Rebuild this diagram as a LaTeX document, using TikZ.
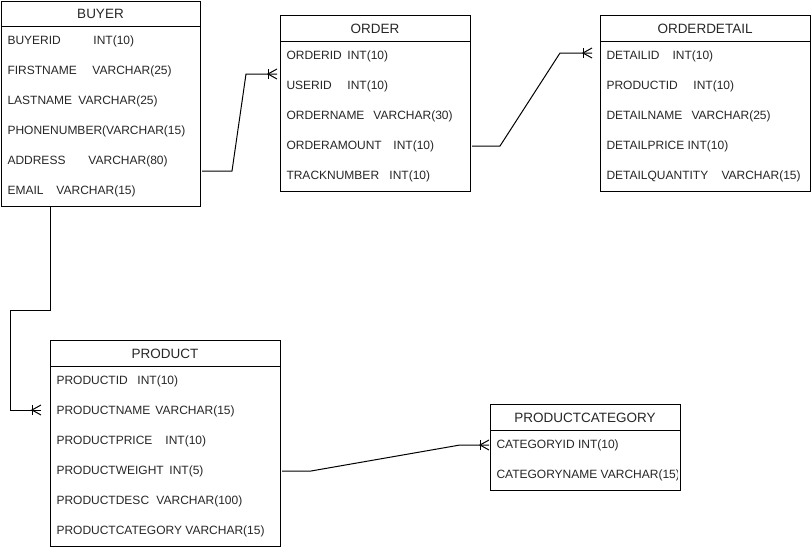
\documentclass[tikz,border=0pt]{standalone}
\usepackage{fontspec}
\setmainfont{Liberation Sans}
\usetikzlibrary{calc}
\def\crowfoot(#1){\draw ($(#1)+(-9,-5)$) -- ($(#1)+(-9,5)$); \draw ($(#1)+(0,-5)$) -- ($(#1)+(-9,0)$) -- ($(#1)+(0,5)$);}
\newcommand\colpair[3]{\makebox[#1pt][l]{#2}#3}

\begin{document}
\begin{tikzpicture}[x=1pt,y=-1pt,line width=1pt,
	tbl/.style={draw,rectangle,anchor=north west,outer sep=0pt,inner sep=0pt},
	ttl/.style={inner sep=0pt,font=\fontsize{13.5}{16}\selectfont,text=black!85},
	fld/.style={anchor=west,inner sep=0pt,font=\fontsize{12}{14}\selectfont,text=black!85}]
		%%%%% START %%%%%
		
		\useasboundingbox (0,0) rectangle (811,550);
		
		% BUYER
		\node[tbl,minimum width=199,minimum height=205] (buyer) at (1,1) {};
		\draw ($(buyer.north west)+(0,25)$) -- ($(buyer.north east)+(0,25)$);
		\node[ttl] (buyer-title) at ($(buyer.north)+(0,13)$) {BUYER};
		\foreach \f [count=\i] in {{\colpair{86}{BUYERID}{INT(10)}},{\colpair{85}{FIRSTNAME}{VARCHAR(25)}},{\colpair{71}{LASTNAME}{VARCHAR(25)}},{PHONENUMBER(VARCHAR(15)},{\colpair{81}{ADDRESS}{VARCHAR(80)}},{\colpair{49}{EMAIL}{VARCHAR(15)}}}
			\node[fld] (buyer-\i) at ($(buyer.north west)+(6,10+30*\i)$) {\f};
		
		% ORDER
		\node[tbl,minimum width=190,minimum height=176] (order) at (280,15) {};
		\draw ($(order.north west)+(0,26)$) -- ($(order.north east)+(0,26)$);
		\node[ttl] (order-title) at ($(order.north)+(0,13.5)$) {ORDER};
		\foreach \f [count=\i] in {{\colpair{61}{ORDERID}{INT(10)}},{\colpair{61}{USERID}{INT(10)}},{\colpair{87}{ORDERNAME}{VARCHAR(30)}},{\colpair{107}{ORDERAMOUNT}{INT(10)}},{\colpair{103}{TRACKNUMBER}{INT(10)}}}
			\node[fld] (order-\i) at ($(order.north west)+(6,11+30*\i)$) {\f};
		
		% ORDERDETAIL
		\node[tbl,minimum width=210,minimum height=176] (detail) at (600,15) {};
		\draw ($(detail.north west)+(0,26)$) -- ($(detail.north east)+(0,26)$);
		\node[ttl] (detail-title) at ($(detail.north)+(0,13.5)$) {ORDERDETAIL};
		\foreach \f [count=\i] in {{\colpair{66}{DETAILID}{INT(10)}},{\colpair{87}{PRODUCTID}{INT(10)}},{\colpair{85}{DETAILNAME}{VARCHAR(25)}},{DETAILPRICE INT(10)},{\colpair{115}{DETAILQUANTITY}{VARCHAR(15)}}}
			\node[fld] (detail-\i) at ($(detail.north west)+(6,11+30*\i)$) {\f};
		
		% PRODUCT
		\node[tbl,minimum width=230,minimum height=206] (product) at (50,340) {};
		\draw ($(product.north west)+(0,26)$) -- ($(product.north east)+(0,26)$);
		\node[ttl] (product-title) at ($(product.north)+(0,13.5)$) {PRODUCT};
		\foreach \f [count=\i] in {{\colpair{81}{PRODUCTID}{INT(10)}},{\colpair{99}{PRODUCTNAME}{VARCHAR(15)}},{\colpair{109}{PRODUCTPRICE}{INT(10)}},{\colpair{113}{PRODUCTWEIGHT}{INT(5)}},{\colpair{100}{PRODUCTDESC}{VARCHAR(100)}},{PRODUCTCATEGORY VARCHAR(15)}}
			\node[fld] (product-\i) at ($(product.north west)+(6,11+30*\i)$) {\f};
		
		% PRODUCTCATEGORY
		\node[tbl,minimum width=190,minimum height=86] (pcat) at (490,404) {};
		\draw ($(pcat.north west)+(0,26)$) -- ($(pcat.north east)+(0,26)$);
		\node[ttl] (pcat-title) at ($(pcat.north)+(0,13.5)$) {PRODUCTCATEGORY};
		\begin{scope}
			\clip (pcat.north west) rectangle ($(pcat.south east)+(-3,0)$);
			\foreach \f [count=\i] in {{CATEGORYID INT(10)},{CATEGORYNAME VARCHAR(15)}}
				\node[fld] (pcat-\i) at ($(pcat.north west)+(6,11+30*\i)$) {\f};
		\end{scope}
		
		% relations
		\draw ($(buyer.east |- 0,171)+(2,0)$) -- ++(30,0) -- ($(order.west |- 0,74)+(-34,0)$) -- ($(order.west |- 0,74)+(-3,0)$) coordinate (buyer-order);
		\crowfoot(buyer-order)
		
		\draw ($(order.east |- 0,146)+(2,0)$) -- ++(28,0) -- ($(detail.west |- 0,53)+(-40,0)$) -- ($(detail.west |- 0,53)+(-8,0)$) coordinate (order-detail);
		\crowfoot(order-detail)
		
		\draw ($(buyer.south west)+(49,1)$) -- ++(0,103) -- ++(-40,0) -- ($(product.west |- 0,410)+(-40,0)$) -- ($(product.west |- 0,410)+(-9,0)$) coordinate (buyer-product);
		\crowfoot(buyer-product)
		
		\draw ($(product.east |- 0,471)+(2,0)$) -- ++(29,0) -- ($(pcat.west |- 0,445)+(-30,0)$) -- ($(pcat.west |- 0,445)+(-1,0)$) coordinate (product-pcat);
		\crowfoot(product-pcat)
		
		%%%%% END %%%%%
	\end{tikzpicture}
\end{document}
